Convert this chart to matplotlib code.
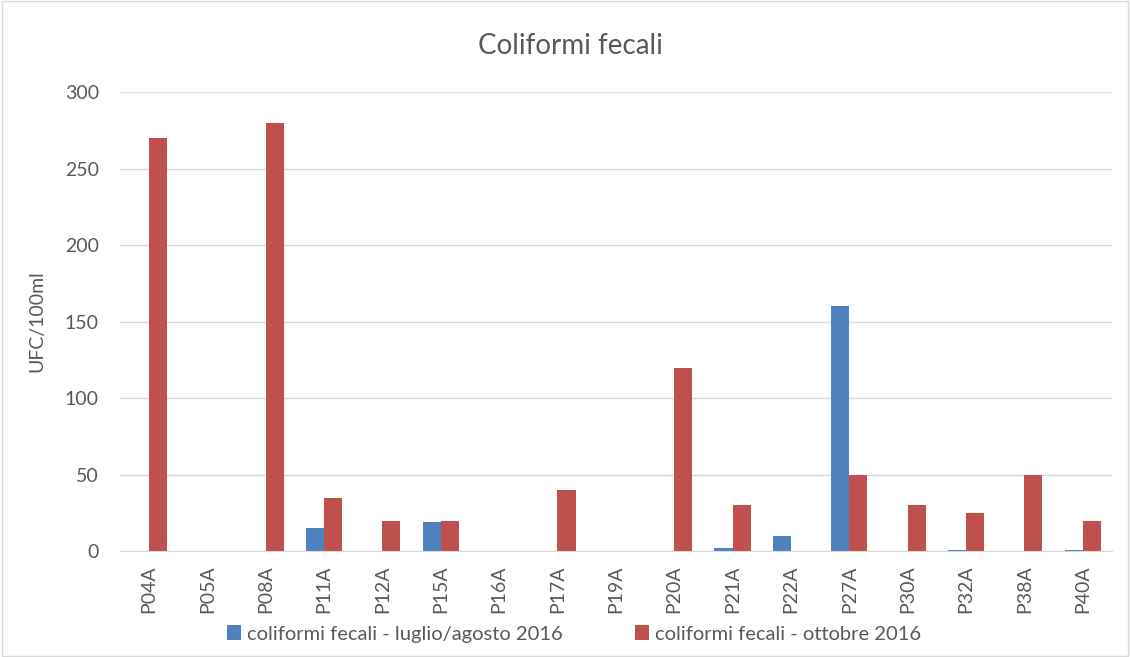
import matplotlib.pyplot as plt
import numpy as np

categories = ["P04A", "P05A", "P08A", "P11A", "P12A", "P15A", "P16A", "P17A", "P19A",
              "P20A", "P21A", "P22A", "P27A", "P30A", "P32A", "P38A", "P40A"]
luglio_agosto = [0, 0, 0, 15, 0, 19, 0, 0, 0, 0, 2, 10, 160, 0, 1, 0, 1]
ottobre = [270, 0, 280, 35, 20, 20, 0, 40, 0, 120, 30, 0, 50, 30, 25, 50, 20]

plt.rcParams['font.family'] = ['Lato', 'DejaVu Sans']

fig = plt.figure(figsize=(11.3, 6.57), dpi=100)
ax = fig.add_axes([0.106, 0.161, 0.878, 0.699])

x = np.arange(len(categories))
w = 0.31
ax.bar(x - w / 2, luglio_agosto, w, color="#4F81BD", label="coliformi fecali - luglio/agosto 2016")
ax.bar(x + w / 2, ottobre, w, color="#C0504D", label="coliformi fecali - ottobre 2016")

ax.set_xlim(-0.5, len(categories) - 0.5)
ax.set_ylim(0, 300)
ax.set_yticks(range(0, 301, 50))
ax.set_xticks(x)
ax.set_xticklabels(categories, rotation=90)
ax.tick_params(length=0, colors="#595959", labelsize=14)
ax.tick_params(axis="y", pad=15)
ax.tick_params(axis="x", pad=10)
ax.grid(axis="y", color="#d9d9d9", linewidth=1)
ax.set_axisbelow(True)
for s in ["top", "right", "left"]:
    ax.spines[s].set_visible(False)
ax.spines["bottom"].set_color("#d9d9d9")

ax.set_ylabel("UFC/100ml", color="#595959", fontsize=14, labelpad=14)
fig.text(0.505, 0.93, "Coliformi fecali", ha="center", va="center", fontsize=20, color="#595959")

fig.legend(loc="center", bbox_to_anchor=(0.508, 0.035), ncol=2, frameon=False,
           fontsize=14.5, handlelength=0.7, handleheight=0.7, handletextpad=0.3,
           columnspacing=3.6, labelcolor="#595959")

# bordo del grafico
fig.patches.append(plt.Rectangle((0.002, 0.002), 0.996, 0.996, transform=fig.transFigure,
                                 fill=False, edgecolor="#d9d9d9", linewidth=1))

fig.savefig("out.png", dpi=100)
